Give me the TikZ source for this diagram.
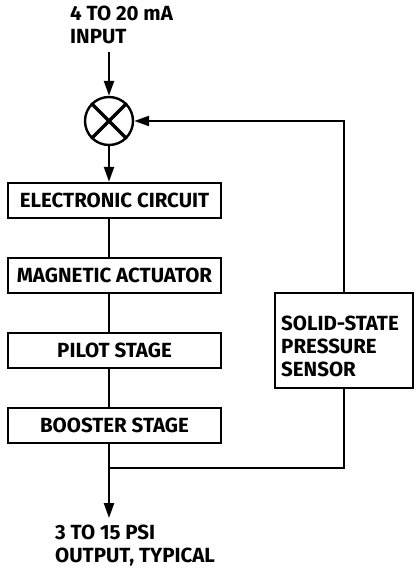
\documentclass[tikz,border=0pt]{standalone}
\usepackage{fontspec}
\setmainfont{Fira Sans}
\usetikzlibrary{arrows.meta}
\tikzset{
	blk/.style={draw, line width=2.4pt, minimum width=213pt, minimum height=35pt, inner sep=0pt},
	lbl/.style={align=left, inner sep=0pt},
	ln/.style={line width=2.4pt},
	arr/.style={ln, -{Triangle[length=15pt,width=10pt]}},
}
\begin{document}
\begin{tikzpicture}[x=1pt,y=-1pt, every node/.append style={font=\bfseries\fontsize{20.5}{23}\selectfont}]
	\useasboundingbox (0,0) rectangle (415,577);

	\node[lbl, anchor=north west] (inp) at (70,6) {4 TO 20 mA\\INPUT};
	\coordinate (in) at (109,52);
	\node[draw, circle, line width=2.4pt, minimum size=48pt, inner sep=0pt] (sum) at (109,121) {};
	\draw[line width=3.5pt] (sum.45) -- (sum.225) (sum.135) -- (sum.315);

	\node[blk] (ec) at (114.5,200.5) {ELECTRONIC CIRCUIT};
	\node[blk] (ma) at (114.5,275.5) {MAGNETIC ACTUATOR};
	\node[blk] (ps) at (114.5,350.5) {PILOT STAGE};
	\node[blk] (bs) at (114.5,425.5) {BOOSTER STAGE};

	\node[draw, line width=2.4pt, minimum width=138pt, minimum height=95pt, inner sep=0pt] (sen) at (344,340.5) {};
	\node[lbl, anchor=west] (sent) at (281,346) {SOLID-STATE\\PRESSURE\\SENSOR};

	\coordinate (j) at (109,468);
	\coordinate (out) at (109,518);
	\node[lbl, anchor=north west] (outt) at (55,525) {3 TO 15 PSI\\OUTPUT, TYPICAL};

	% signal path
	\draw[arr] (in) -- (sum.north);
	\draw[arr] (sum.south) -- (sum.south |- ec.north);
	\draw[ln] (ec.south -| sum) -- (ma.north -| sum);
	\draw[ln] (ma.south -| sum) -- (ps.north -| sum);
	\draw[ln] (ps.south -| sum) -- (bs.north -| sum);
	\draw[arr] (bs.south -| sum) -- (out);

	% feedback
	\draw[ln] (sen.south) |- (j);
	\draw[arr] (sen.north) |- (sum.east);
\end{tikzpicture}
\end{document}
